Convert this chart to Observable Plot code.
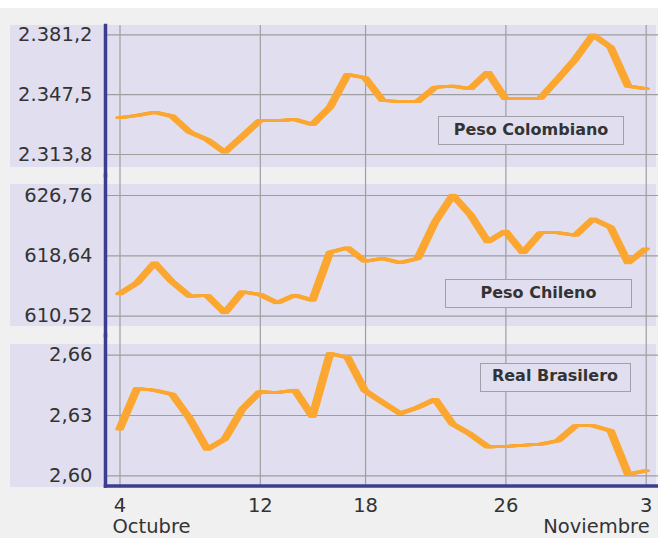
<!DOCTYPE html>
<html><head><meta charset="utf-8">
<script src="https://cdn.jsdelivr.net/npm/d3@7"></script>
<script src="https://cdn.jsdelivr.net/npm/@observablehq/plot@0.6"></script>
<style>
html,body{margin:0;padding:0;background:#fff;}
#chart{position:relative;width:658px;height:538px;overflow:hidden;font-family:"DejaVu Sans",Verdana,sans-serif;}
.bg{position:absolute;left:0;top:8px;width:658px;height:530px;background:#f0f0f0;}
.panel{position:absolute;left:10px;width:646px;background:#e1dfef;}
.layer{position:absolute;left:0;}
.tag{position:absolute;box-sizing:border-box;border:1.5px solid #a0a0a8;background:#e1dfef;color:#333;
  font:bold 16px "DejaVu Sans",Verdana,sans-serif;display:flex;align-items:center;justify-content:center;padding-bottom:3px;}
</style></head>
<body><div id="chart"><div class="bg"></div></div>
<script>
// ---- data ----
const startDate = "2007-10-04";
const endDate = "2007-11-03";
const dates = d3.utcDay.range(new Date(startDate), d3.utcDay.offset(new Date(endDate), 1));

const seriesNames = ["Peso Colombiano", "Peso Chileno", "Real Brasilero"];

const pesoColombiano = [2334.5, 2335.8, 2337.6, 2335.4, 2326.4, 2322.2, 2315.1, 2323.9, 2332.9, 2332.9,
  2333.5, 2330.7, 2340.4, 2358.8, 2357.0, 2344.2, 2343.6, 2343.6, 2351.7, 2352.3,
  2350.8, 2360.1, 2345.2, 2345.5, 2345.5, 2356.4, 2367.7, 2381.2, 2374.2, 2352.3, 2350.8];

const pesoChileno = [613.53, 615.01, 617.70, 615.14, 613.21, 613.30, 610.97, 613.80, 613.44, 612.32,
  613.35, 612.67, 619.13, 619.72, 617.92, 618.28, 617.70, 618.28, 623.22, 626.80,
  624.20, 620.53, 621.96, 619.05, 621.74, 621.74, 621.42, 623.62, 622.49, 617.70, 619.59];

const realBrasilero = [2.6232, 2.6434, 2.6426, 2.6406, 2.6285, 2.6132, 2.6182, 2.6331, 2.6418, 2.6414,
  2.6426, 2.6295, 2.6608, 2.6589, 2.6423, 2.6365, 2.6310, 2.6340, 2.6381, 2.6257,
  2.6207, 2.6144, 2.6146, 2.6152, 2.6157, 2.6174, 2.6249, 2.6249, 2.6224, 2.6008, 2.6025];

const xTicks = ["2007-10-04", "2007-10-12", "2007-10-18", "2007-10-26", "2007-11-03"];
const monthLabels = [{date: "2007-10-04", label: "Octubre"}, {date: "2007-11-03", label: "Noviembre"}];

const yTicksCOP = [2313.8, 2347.5, 2381.2];
const yTicksCLP = [610.52, 618.64, 626.76];
const yTicksBRL = [2.60, 2.63, 2.66];

// ---- drawing ----
const es = d3.formatLocale({decimal: ",", thousands: ".", grouping: [3], currency: ["", ""]});
const xTickDates = xTicks.map(d => new Date(d));
const months = monthLabels.map(d => ({date: new Date(d.date), label: d.label}));
const BLUE = "#3d3d90", ORANGE = "#fba731", GRID = "#9e9e9e";
const W = 658;
const nib = [-3.5, -2.5, -1.5, -0.5, 0.5, 1.5, 2.5];
const chart = document.getElementById("chart");

function panel(cfg) {
  const data = dates.map((d, i) => ({date: d, value: cfg.values[i]}));
  const marks = [
    Plot.gridX(xTickDates, {stroke: GRID, strokeOpacity: 1, strokeWidth: 1.2}),
    Plot.gridY(cfg.ticks, {stroke: GRID, strokeOpacity: 1, strokeWidth: 1.2}),
    Plot.axisY(cfg.ticks, {tickFormat: es.format(cfg.fmt), tickSize: 0, tickPadding: 13, label: null}),
    ...nib.map(dx => Plot.line(data, {x: "date", y: "value", dx, stroke: ORANGE, strokeWidth: 2.6})),
    Plot.frame({anchor: "left", stroke: BLUE, strokeWidth: 3.5})
  ];
  if (cfg.bottom) {
    const monthDy = 46.5;
    marks.push(
      Plot.frame({anchor: "bottom", stroke: BLUE, strokeWidth: 3.5}),
      Plot.axisX(xTickDates, {tickFormat: d => String(d.getUTCDate()), tickSize: 0, tickPadding: 12, label: null}),
      Plot.text(months.slice(0, 1), {x: "date", text: "label", frameAnchor: "bottom", textAnchor: "start", dx: -7.5, dy: monthDy}),
      Plot.text(months.slice(1), {x: "date", text: "label", frameAnchor: "bottom", textAnchor: "end", dx: 3.5, dy: monthDy})
    );
  }
  const svg = Plot.plot({
    width: W, height: cfg.height,
    marginLeft: 105, marginRight: 0, marginTop: 0, marginBottom: cfg.marginBottom || 0,
    insetLeft: 14.5, insetRight: 12.3,
    insetTop: cfg.insetTop, insetBottom: cfg.insetBottom,
    x: {type: "utc", domain: [dates[0], dates[dates.length - 1]], axis: null},
    y: {domain: [cfg.ticks[0], cfg.ticks[cfg.ticks.length - 1]], axis: null},
    style: {background: "transparent", color: "#333", fontFamily: '"DejaVu Sans", Verdana, sans-serif', fontSize: "19.5px", overflow: "visible"},
    marks
  });
  svg.classList.add("layer");
  svg.style.top = cfg.top + "px";
  return svg;
}

function addDiv(cls, left, top, w, h, text) {
  const d = document.createElement("div");
  d.className = cls;
  Object.assign(d.style, {left: left + "px", top: top + "px", width: w + "px", height: h + "px"});
  if (text) d.textContent = text;
  chart.appendChild(d);
}

addDiv("panel", 10, 25, 646, 142);
addDiv("panel", 10, 184, 646, 142);
addDiv("panel", 10, 344, 646, 143);

chart.appendChild(panel({values: pesoColombiano, ticks: yTicksCOP, fmt: ",.1f", top: 25, height: 150, insetTop: 9.3, insetBottom: 21}));
chart.appendChild(panel({values: pesoChileno, ticks: yTicksCLP, fmt: ",.2f", top: 175, height: 160, insetTop: 20, insetBottom: 19.3}));
chart.appendChild(panel({values: realBrasilero, ticks: yTicksBRL, fmt: ",.2f", top: 335, height: 203, marginBottom: 52.5, insetTop: 19.7, insetBottom: 10.2, bottom: true}));

addDiv("tag", 438, 116, 186, 29, seriesNames[0]);
addDiv("tag", 445, 279, 187, 29, seriesNames[1]);
addDiv("tag", 479.5, 363, 151, 28.5, seriesNames[2]);
</script>
</body></html>
